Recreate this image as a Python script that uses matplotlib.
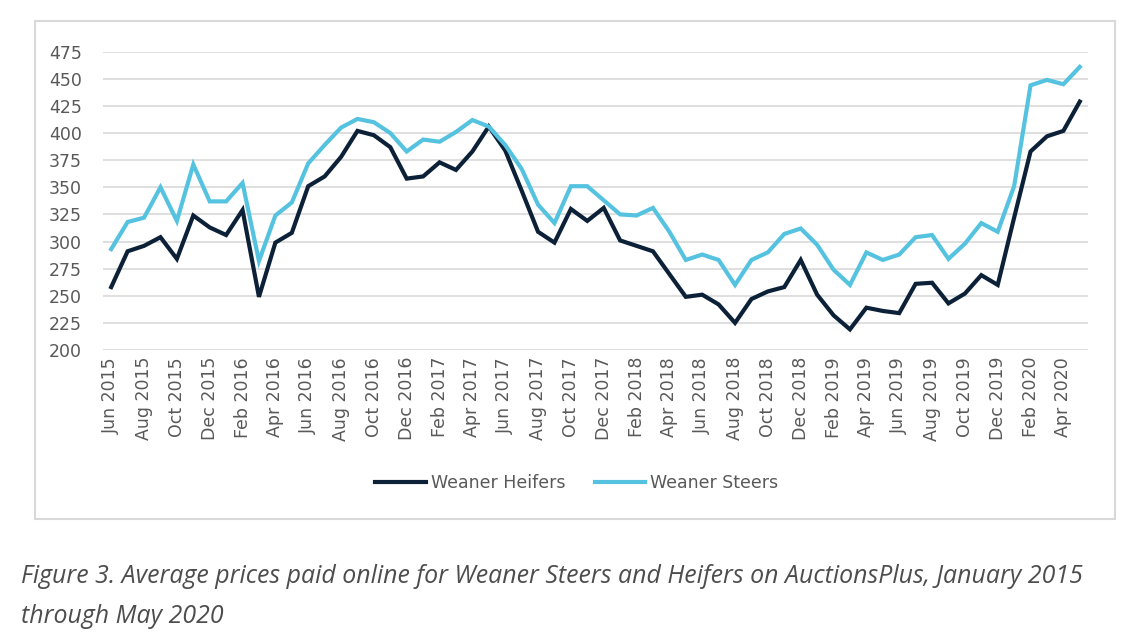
import matplotlib
matplotlib.use('Agg')
import matplotlib.pyplot as plt
import pandas as pd
from matplotlib.patches import Rectangle

# --- data: monthly average prices, Jun 2015 .. May 2020 ---
months = pd.date_range('2015-06-01', '2020-05-01', freq='MS')

heifers = [258, 291, 296, 304, 284, 324, 313, 306, 329, 249,
           299, 308, 351, 360, 378, 402, 398, 387, 358, 360,
           373, 366, 383, 406, 384, 347, 309, 299, 330, 319,
           331, 301, 296, 291, 270, 249, 251, 242, 225, 247,
           254, 258, 283, 251, 232, 219, 239, 236, 234, 261,
           262, 243, 252, 269, 260, 322, 383, 397, 402, 429]

steers = [293, 318, 322, 350, 319, 371, 337, 337, 354, 282,
          324, 336, 372, 389, 405, 413, 410, 400, 383, 394,
          392, 401, 412, 406, 389, 367, 334, 317, 351, 351,
          338, 325, 324, 331, 309, 283, 288, 283, 260, 283,
          290, 307, 312, 297, 274, 260, 290, 283, 288, 304,
          306, 284, 298, 317, 309, 351, 444, 449, 445, 461]

yticks = [200, 225, 250, 275, 300, 325, 350, 375, 400, 425, 450, 475]

caption_1 = 'Figure 3. Average prices paid online for Weaner Steers and Heifers on AuctionsPlus, January 2015'
caption_2 = 'through May 2020'

# --- plot ---
plt.rcParams['font.family'] = ['DejaVu Sans']

fig = plt.figure(figsize=(11.4, 6.41), dpi=100)
ax = fig.add_axes([103 / 1140, 1 - 350 / 641, 985 / 1140, (350 - 51.7) / 641])

x = list(range(len(months)))
ax.plot(x, heifers, color='#0c2137', lw=3, label='Weaner Heifers', solid_joinstyle='miter')
ax.plot(x, steers, color='#55c3e0', lw=3, label='Weaner Steers', solid_joinstyle='miter')

ax.set_xlim(-0.5, len(months) - 0.5)
ax.set_ylim(200, 475)
ax.set_yticks(yticks)
ax.set_yticklabels([str(v) for v in yticks])

tick_pos = x[::2]
ax.set_xticks(tick_pos)
ax.set_xticklabels([months[i].strftime('%b %Y') for i in tick_pos], rotation=90)

ax.grid(axis='y', color='#d9d9d9', lw=1.2)
ax.set_axisbelow(True)
for s in ax.spines.values():
    s.set_visible(False)
ax.tick_params(length=0, labelsize=12.5, labelcolor='#595959')
ax.tick_params(axis='y', pad=15)
ax.tick_params(axis='x', pad=5)

fig.legend(loc='center', bbox_to_anchor=(0.506, 1 - 483 / 641), ncol=2, frameon=False,
           fontsize=12.5, handlelength=2.9, handletextpad=0.3, columnspacing=1.7,
           labelcolor='#595959')

# chart border
fig.patches.append(Rectangle((35 / 1140, 1 - 519 / 641), 1080 / 1140, 498 / 641,
                             transform=fig.transFigure, fill=False,
                             edgecolor='#d9d9d9', lw=1.5))

fig.text(21 / 1140, 1 - 583 / 641, caption_1, fontsize=17.9, style='italic',
         family=['Open Sans', 'DejaVu Sans'], color='#4d4d4d', va='baseline')
fig.text(21 / 1140, 1 - 623 / 641, caption_2, fontsize=17.9, style='italic',
         family=['Open Sans', 'DejaVu Sans'], color='#4d4d4d', va='baseline')

fig.savefig('out.png', dpi=100)
